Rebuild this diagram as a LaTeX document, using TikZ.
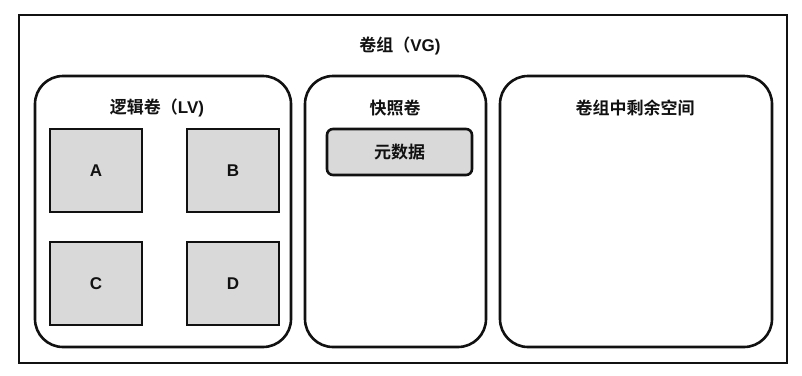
\documentclass[tikz,border=0pt]{standalone}
\usepackage{fontspec}
\setmainfont{Noto Sans CJK SC}[BoldFont={* Bold}]
\newfontfamily\latinfont{Liberation Sans}
\usepackage{xcolor}
\definecolor{lvmfill}{HTML}{D9D9D9}
\definecolor{lvmink}{HTML}{111111}

\begin{document}
\begin{tikzpicture}[
  x=1pt,
  y=-1pt,
  every node/.style={font=\fontsize{17}{20}\selectfont\bfseries, text=lvmink},
  panel/.style={draw=lvmink, line width=2.6pt, rounded corners=28pt, inner sep=0pt},
  lvblock/.style={draw=lvmink, line width=2.6pt, fill=lvmfill, inner sep=0pt,
    minimum width=92pt, minimum height=83pt, font=\fontsize{17}{20}\latinfont\bfseries}
]
  \useasboundingbox (0,0) rectangle (802,375);

  % volume group frame
  \node[draw=lvmink, line width=2.6pt, inner sep=0pt, minimum width=768pt, minimum height=348pt] (vg) at (403,189) {};
  \node (vgtitle) at (400,46) {卷组（{\latinfont VG)}};

  % logical volume
  \node[panel, minimum width=256pt, minimum height=271pt] (lv) at (163,211.5) {};
  \node (lvtitle) at (157,108) {逻辑卷（{\latinfont LV)}};
  \node[lvblock] (blkA) at (96,170.5) {A};
  \node[lvblock] (blkB) at (233,170.5) {B};
  \node[lvblock] (blkC) at (96,283.5) {C};
  \node[lvblock] (blkD) at (233,283.5) {D};

  % snapshot volume
  \node[panel, minimum width=181pt, minimum height=271pt] (snap) at (395.5,211.5) {};
  \node (snaptitle) at (395,108) {快照卷};
  \node[draw=lvmink, line width=2.6pt, fill=lvmfill, rounded corners=6pt, inner sep=0pt,
    minimum width=145pt, minimum height=46pt] (meta) at (399.5,152) {元数据};

  % free space in the group
  \node[panel, minimum width=272pt, minimum height=271pt] (free) at (636,211.5) {};
  \node (freetitle) at (635,108) {卷组中剩余空间};
\end{tikzpicture}
\end{document}
